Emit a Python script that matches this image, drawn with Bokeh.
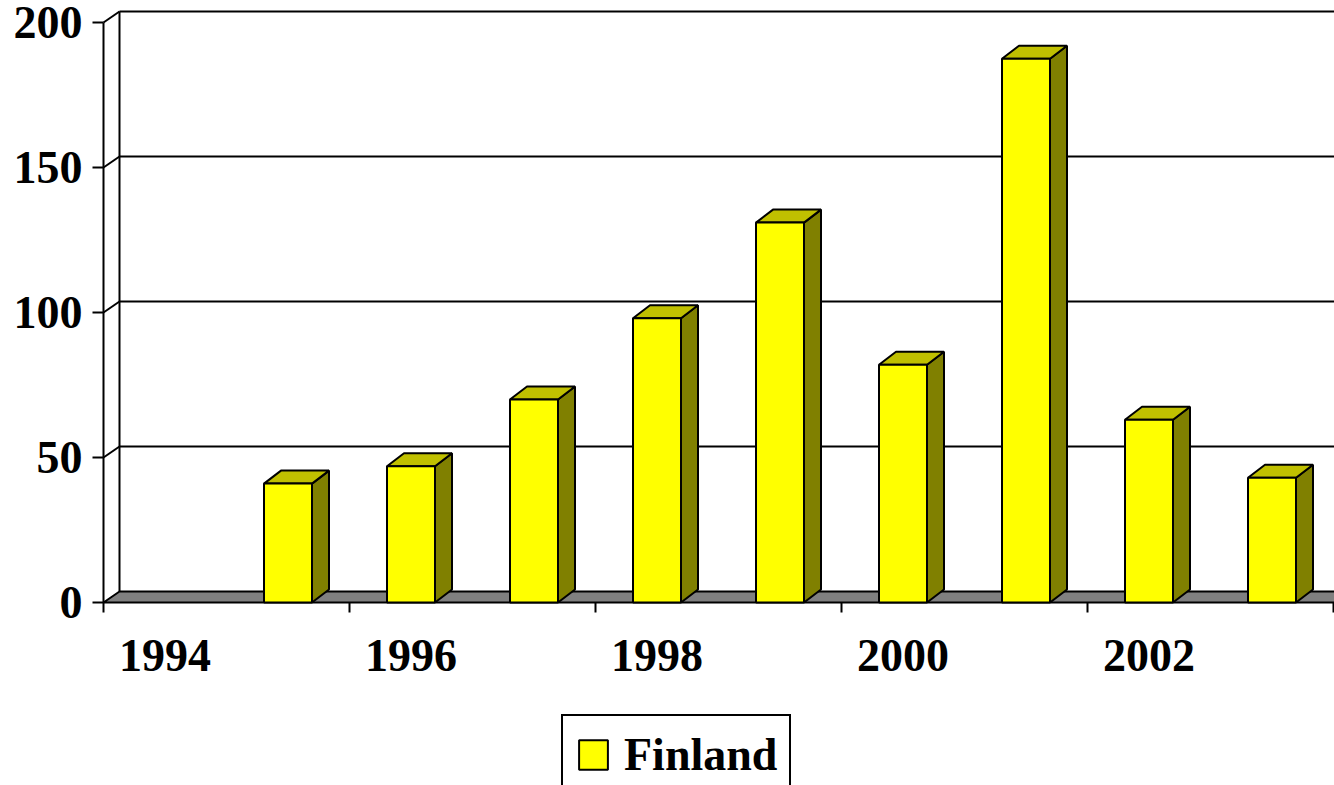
from bokeh.plotting import figure
from bokeh.models import FixedTicker, Legend, LegendItem
from bokeh.embed import file_html
from bokeh.resources import INLINE

# ---- data ----
years = ["1994", "1995", "1996", "1997", "1998", "1999", "2000", "2001", "2002", "2003"]
finland = [0, 41, 47, 70, 98, 131, 82, 187.5, 63, 43]
y_ticks = [0, 50, 100, 150, 200]

# ---- geometry (pixel scale helpers) ----
PX_X = 123.0      # px per category
PX_Y = 2.9        # px per value unit
FDX, FDY = 16 / PX_X, 11 / PX_Y     # floor / wall depth
BDX, BDY = 17 / PX_X, 13 / PX_Y     # bar depth
BW = 48 / PX_X                       # bar front width

W, H = 1334, 785
ML = 100
ZERO_Y = 602                          # page y of value 0
frame_w = W - ML
x0 = -3 / PX_X
x1 = x0 + frame_w / PX_X
y1 = ZERO_Y / PX_Y
y0 = -(H - ZERO_Y) / PX_Y

p = figure(width=W, height=H, output_backend="svg", toolbar_location=None,
           x_range=(x0, x1), y_range=(y0, y1),
           min_border_left=ML, min_border_right=0, min_border_top=0, min_border_bottom=0)
p.outline_line_color = None
p.xgrid.visible = False
p.ygrid.visible = False
p.background_fill_color = "white"
p.border_fill_color = "white"

FONT = "Liberation Serif"
n = len(years)
xe = n + 2

# back wall gridlines & wall edges
for v in y_ticks[1:]:
    p.segment(x0=[FDX], y0=[v + FDY], x1=[xe], y1=[v + FDY], line_color="black", line_width=2)
    p.segment(x0=[0], y0=[v], x1=[FDX], y1=[v + FDY], line_color="black", line_width=2)
p.segment(x0=[FDX], y0=[FDY], x1=[FDX], y1=[y_ticks[-1] + FDY], line_color="black", line_width=2)

# floor
p.patch(x=[0, FDX, xe + FDX, xe], y=[0, FDY, FDY, 0], fill_color="#808080",
        line_color="black", line_width=2)

# front left axis line
p.segment(x0=[0], y0=[0], x1=[0], y1=[y_ticks[-1]], line_color="black", line_width=2)

# bars
lefts, rights, tops = [], [], []
side_x, side_y, top_x, top_y = [], [], [], []
for i, v in enumerate(finland):
    if v <= 0:
        continue
    c = i + 0.5
    l, r = c - BW / 2, c + BW / 2
    lefts.append(l); rights.append(r); tops.append(v)
    side_x.append([r, r + BDX, r + BDX, r])
    side_y.append([0, BDY, v + BDY, v])
    top_x.append([l, l + BDX, r + BDX, r])
    top_y.append([v, v + BDY, v + BDY, v])

p.patches(xs=side_x, ys=side_y, fill_color="#808000", line_color="black", line_width=2)
p.patches(xs=top_x, ys=top_y, fill_color="#C0C000", line_color="black", line_width=2)
front = p.quad(left=lefts, right=rights, bottom=0, top=tops, fill_color="#FFFF00",
               line_color="black", line_width=2)

# axes
xa = p.xaxis[0]
xa.fixed_location = 0
xa.ticker = FixedTicker(ticks=[i + 0.5 for i in range(0, n, 2)],
                        minor_ticks=[float(i) for i in range(0, n + 1, 2)])
xa.major_label_overrides = {i + 0.5: years[i] for i in range(0, n, 2)}
xa.axis_line_color = None
xa.major_tick_line_color = None
xa.major_tick_out = 0
xa.major_tick_in = 0
xa.minor_tick_line_color = "black"
xa.minor_tick_line_width = 2
xa.minor_tick_in = 0
xa.minor_tick_out = 10
xa.major_label_standoff = 27
xa.major_label_text_font = FONT
xa.major_label_text_font_style = "bold"
xa.major_label_text_font_size = "46px"
xa.major_label_text_color = "black"

ya = p.yaxis[0]
ya.ticker = FixedTicker(ticks=y_ticks)
ya.axis_line_color = None
ya.major_tick_line_color = "black"
ya.major_tick_line_width = 2
ya.major_tick_in = 3
ya.major_tick_out = 8
ya.minor_tick_line_color = None
ya.major_label_standoff = 10
ya.major_label_text_font = FONT
ya.major_label_text_font_style = "bold"
ya.major_label_text_font_size = "46px"
ya.major_label_text_color = "black"

legend = Legend(items=[LegendItem(label="Finland", renderers=[front])],
                location=(461, -10))
legend.label_text_font = FONT
legend.label_text_font_style = "bold"
legend.label_text_font_size = "46px"
legend.label_text_color = "black"
legend.glyph_width = 36
legend.glyph_height = 37
legend.padding = 12
legend.label_standoff = 13
legend.margin = 0
legend.border_line_color = "black"
legend.border_line_alpha = 1
legend.border_line_width = 2
legend.background_fill_color = "white"
legend.background_fill_alpha = 1
p.add_layout(legend)

open("out.html", "w").write(file_html(p, INLINE))
